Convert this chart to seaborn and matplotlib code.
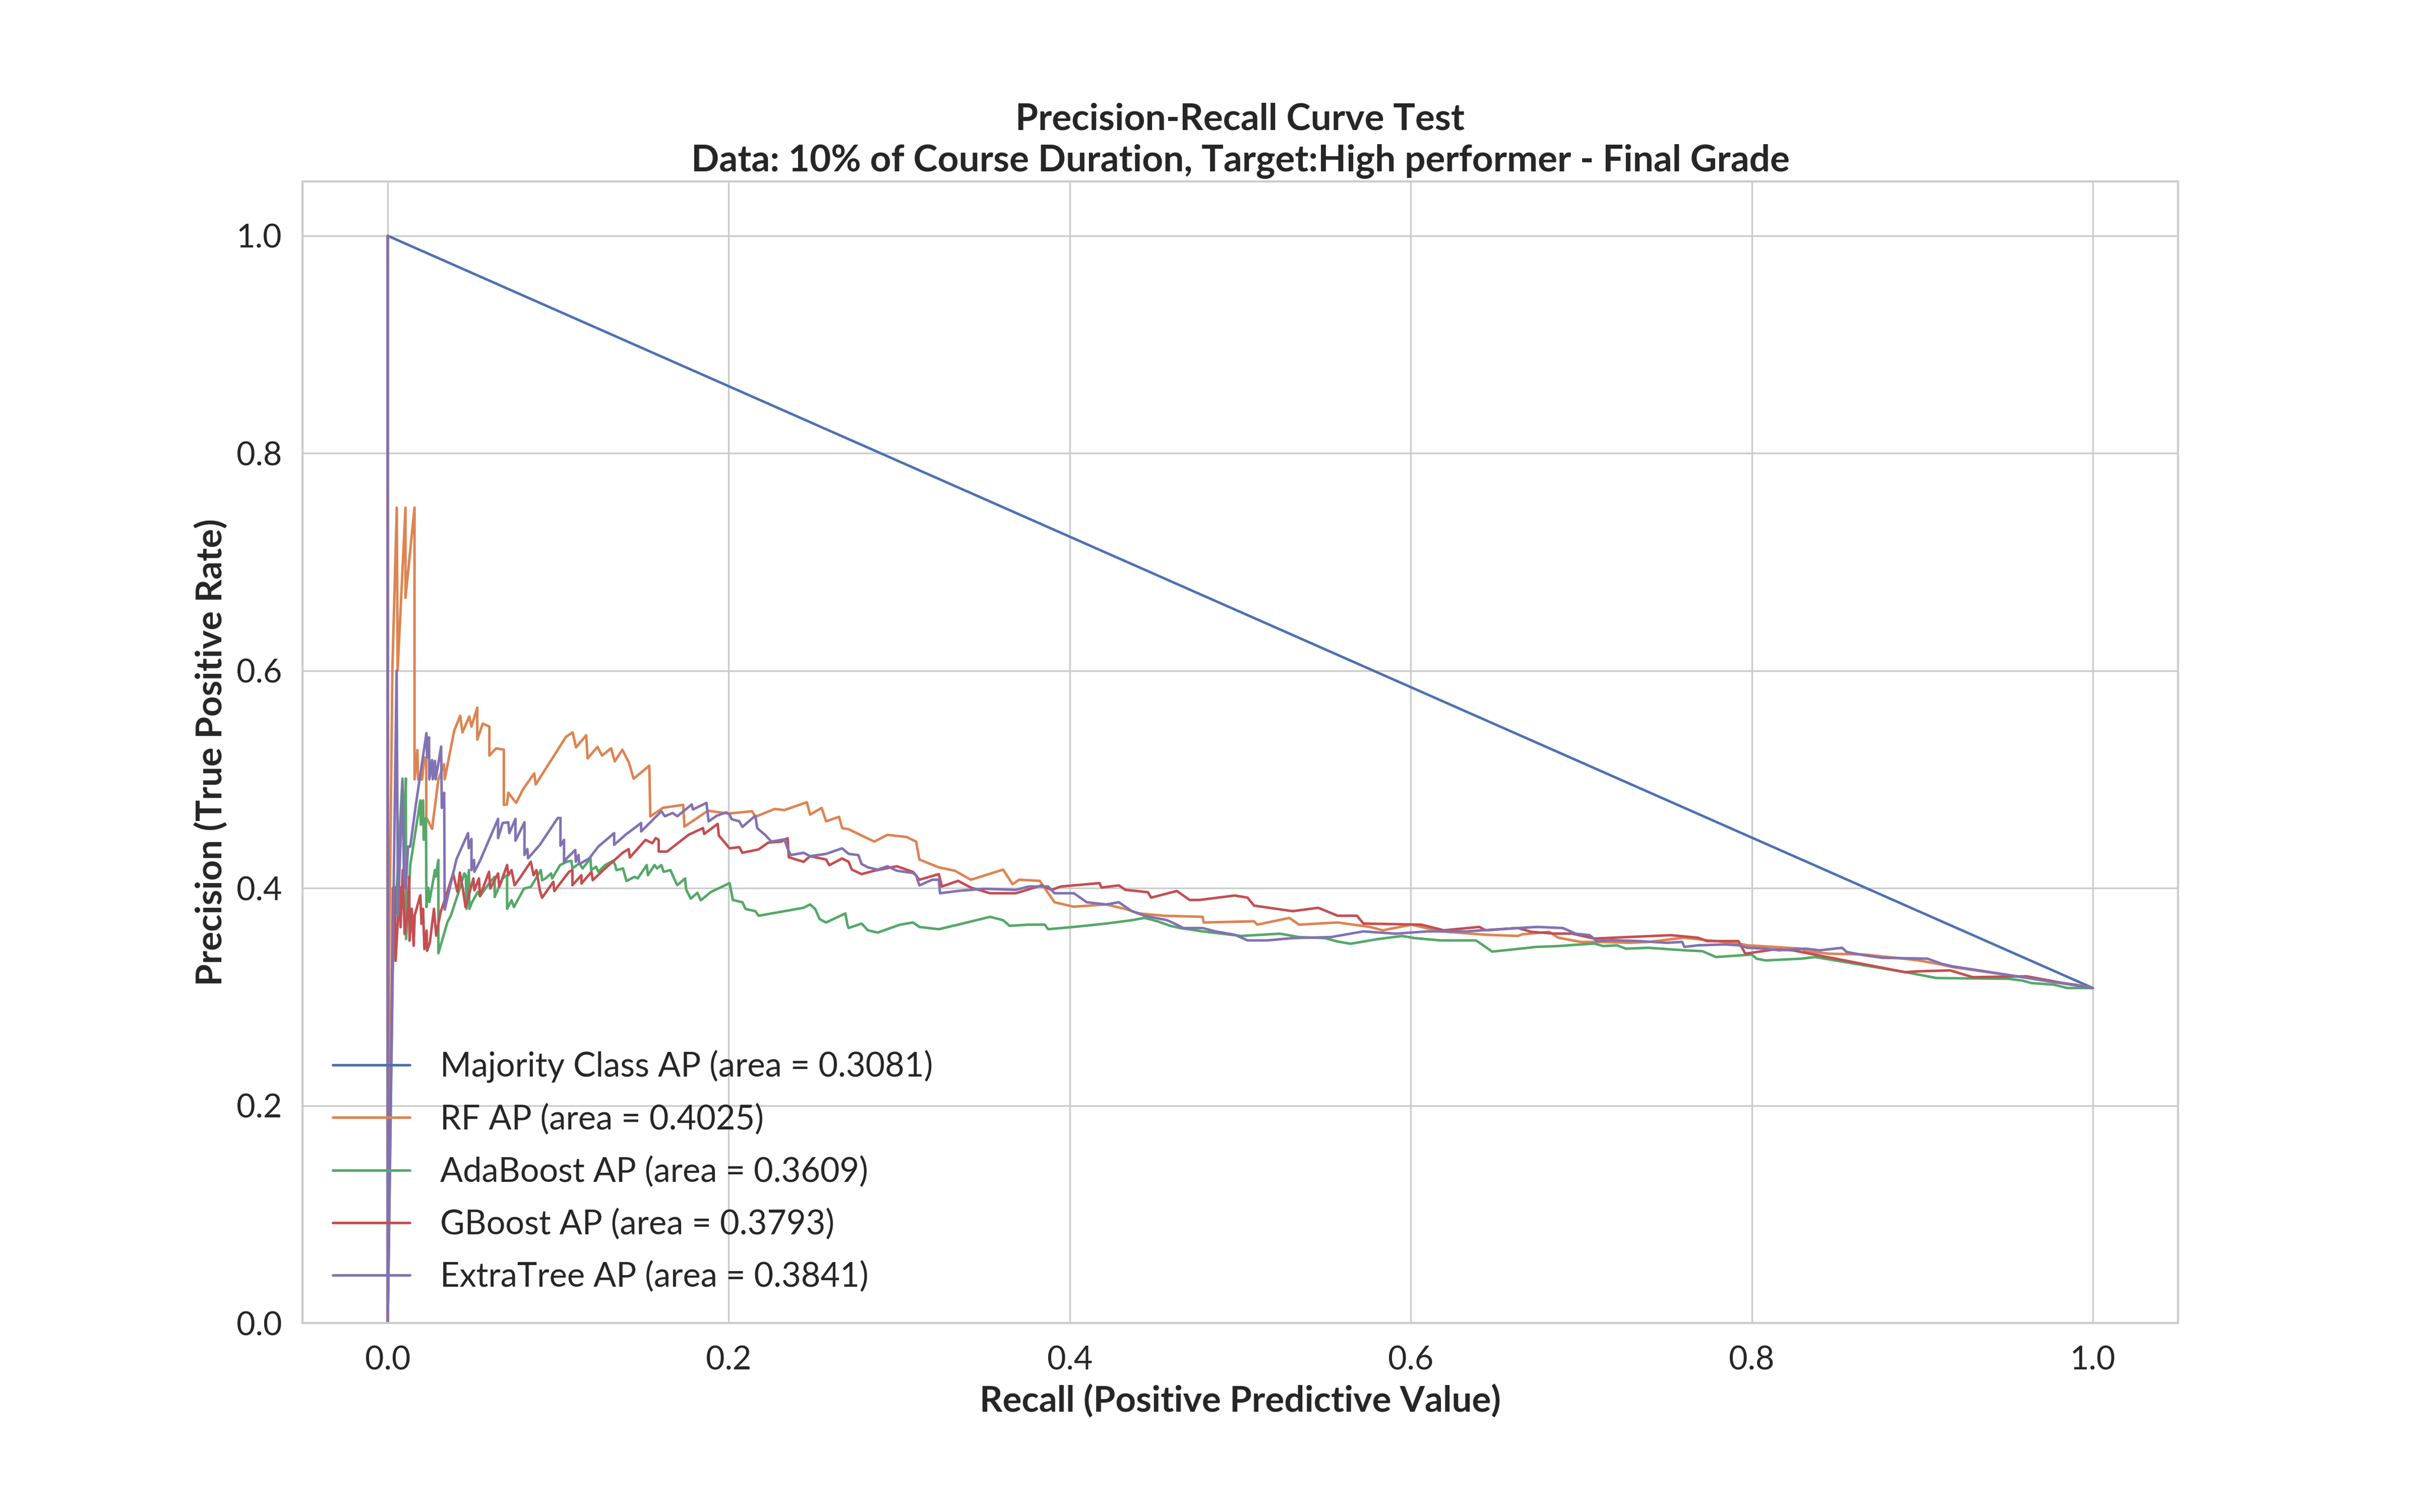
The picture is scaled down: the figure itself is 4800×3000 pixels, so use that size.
import matplotlib
matplotlib.use("Agg")
import matplotlib.pyplot as plt
import seaborn as sns
import pandas as pd

# ---------------- data ----------------
labels = [
    "Majority Class AP (area = 0.3081)",
    "RF AP (area = 0.4025)",
    "AdaBoost AP (area = 0.3609)",
    "GBoost AP (area = 0.3793)",
    "ExtraTree AP (area = 0.3841)",
]

majority_points = [(0.0, 1.0), (1.0, 0.3081)]

rf_points = [
    (0.0, 1.0), (0.0, 0.0), (0.0008, 0.33), (0.0027, 0.60), (0.0053, 0.75), (0.0058, 0.60),
    (0.0104, 0.75), (0.0104, 0.667), (0.0157, 0.75), (0.0157, 0.50), (0.0174, 0.527),
    (0.0178, 0.50), (0.0202, 0.50), (0.0215, 0.52), (0.0226, 0.52), (0.0226, 0.465),
    (0.0260, 0.4545), (0.0297, 0.50), (0.0330, 0.514), (0.0334, 0.50), (0.0390, 0.545),
    (0.0425, 0.5585), (0.0438, 0.5432), (0.0478, 0.5579), (0.0491, 0.5486), (0.0525, 0.566),
    (0.0525, 0.5366), (0.0557, 0.5513), (0.0596, 0.5486), (0.0596, 0.5219), (0.0636, 0.5286),
    (0.0681, 0.5273), (0.0681, 0.4766), (0.0699, 0.4769), (0.0707, 0.4877), (0.0753, 0.4784),
    (0.0793, 0.4908), (0.0859, 0.5055), (0.0868, 0.4954), (0.1046, 0.5393), (0.1085, 0.5432),
    (0.1104, 0.5294), (0.1164, 0.5406), (0.1172, 0.5193), (0.1230, 0.5299), (0.1257, 0.5219),
    (0.1310, 0.5286), (0.1331, 0.5166), (0.1376, 0.5273), (0.1415, 0.5153), (0.1442, 0.5006),
    (0.1534, 0.5126), (0.1540, 0.4659), (0.1614, 0.4739), (0.1733, 0.4766), (0.1740, 0.4566),
    (0.1878, 0.4712), (0.1997, 0.4686), (0.2137, 0.4707), (0.2156, 0.4656), (0.2269, 0.4728),
    (0.2326, 0.4718), (0.2458, 0.4790), (0.2477, 0.4676), (0.2545, 0.4738), (0.2571, 0.4614),
    (0.2647, 0.4656), (0.2665, 0.4552), (0.2703, 0.4542), (0.2771, 0.4490), (0.2854, 0.4428),
    (0.2930, 0.4490), (0.3043, 0.4470), (0.3099, 0.4428), (0.3118, 0.4263), (0.3232, 0.4191),
    (0.3326, 0.4160), (0.3420, 0.4077), (0.3609, 0.4170), (0.3665, 0.4036), (0.3703, 0.4077),
    (0.3824, 0.4067), (0.3911, 0.3870), (0.4024, 0.3829), (0.4213, 0.3850), (0.4326, 0.3808),
    (0.4409, 0.3767), (0.4552, 0.3746), (0.4779, 0.3736), (0.4786, 0.3684), (0.5081, 0.3695),
    (0.5100, 0.3664), (0.5288, 0.3726), (0.5345, 0.3664), (0.5571, 0.3684), (0.5760, 0.3643),
    (0.5836, 0.3612), (0.6005, 0.3664), (0.6175, 0.3602), (0.6440, 0.3571), (0.6628, 0.3560),
    (0.6654, 0.3575), (0.6812, 0.3598), (0.6865, 0.3544), (0.6997, 0.3505), (0.7103, 0.3505),
    (0.7288, 0.3497), (0.7394, 0.3505), (0.7605, 0.3544), (0.7737, 0.3521), (0.7922, 0.3490),
    (0.7975, 0.3474), (0.8133, 0.3459), (0.8292, 0.3443), (0.8318, 0.3420), (0.8450, 0.3397),
    (0.8662, 0.3389), (0.8847, 0.3359), (0.8979, 0.3335), (0.9111, 0.3297), (0.9177, 0.3274),
    (0.9586, 0.3181), (0.9771, 0.3135), (0.9903, 0.3112), (1.0, 0.3081),
]

ada_points = [
    (0.0, 1.0), (0.0, 0.0), (0.0030, 0.33), (0.0086, 0.5008), (0.0096, 0.4367), (0.0106, 0.5008),
    (0.0108, 0.3532), (0.0132, 0.4212), (0.0191, 0.4807), (0.0194, 0.4583), (0.0207, 0.4807),
    (0.0211, 0.4444), (0.0224, 0.4645), (0.0227, 0.3826), (0.0238, 0.4003), (0.0244, 0.3872),
    (0.0277, 0.4166), (0.0281, 0.4104), (0.0297, 0.4259), (0.0297, 0.3401), (0.0350, 0.3687),
    (0.0370, 0.3748), (0.0403, 0.3903), (0.0416, 0.3965), (0.0449, 0.4135), (0.0458, 0.4119),
    (0.0462, 0.3810), (0.0476, 0.4166), (0.0479, 0.3810), (0.0495, 0.3872), (0.0528, 0.3965),
    (0.0541, 0.3926), (0.0601, 0.4058), (0.0627, 0.4104), (0.0627, 0.3918), (0.0674, 0.4089),
    (0.0700, 0.4119), (0.0700, 0.3810), (0.0726, 0.3888), (0.0740, 0.3826), (0.0799, 0.3996),
    (0.0839, 0.4011), (0.0898, 0.4166), (0.0905, 0.4073), (0.0925, 0.4089), (0.0958, 0.4135),
    (0.0964, 0.4089), (0.1011, 0.4212), (0.1050, 0.4243), (0.1077, 0.4251), (0.1083, 0.4181),
    (0.1123, 0.4228), (0.1143, 0.4181), (0.1189, 0.4274), (0.1193, 0.4166), (0.1222, 0.4197),
    (0.1235, 0.4150), (0.1275, 0.4212), (0.1321, 0.4251), (0.1334, 0.4212), (0.1341, 0.4166),
    (0.1380, 0.4181), (0.1400, 0.4065), (0.1447, 0.4104), (0.1466, 0.4089), (0.1519, 0.4212),
    (0.1526, 0.4119), (0.1565, 0.4212), (0.1579, 0.4181), (0.1605, 0.4212), (0.1618, 0.4150),
    (0.1658, 0.4166), (0.1684, 0.4073), (0.1698, 0.4027), (0.1744, 0.4089), (0.1750, 0.3988),
    (0.1777, 0.3903), (0.1816, 0.3957), (0.1836, 0.3888), (0.1896, 0.3965), (0.2005, 0.4046),
    (0.2024, 0.3891), (0.2080, 0.3870), (0.2099, 0.3808), (0.2156, 0.3788), (0.2175, 0.3746),
    (0.2326, 0.3788), (0.2439, 0.3819), (0.2477, 0.3850), (0.2507, 0.3808), (0.2533, 0.3715),
    (0.2571, 0.3684), (0.2684, 0.3767), (0.2696, 0.3664), (0.2703, 0.3633), (0.2779, 0.3674),
    (0.2816, 0.3612), (0.2873, 0.3591), (0.3005, 0.3664), (0.3081, 0.3684), (0.3118, 0.3643),
    (0.3232, 0.3622), (0.3345, 0.3664), (0.3533, 0.3736), (0.3609, 0.3705), (0.3647, 0.3653),
    (0.3760, 0.3664), (0.3854, 0.3664), (0.3873, 0.3622), (0.4024, 0.3643), (0.4213, 0.3674),
    (0.4364, 0.3705), (0.4439, 0.3726), (0.4515, 0.3695), (0.4590, 0.3653), (0.4647, 0.3633),
    (0.4779, 0.3602), (0.4892, 0.3581), (0.5005, 0.3560), (0.5232, 0.3581), (0.5345, 0.3550),
    (0.5496, 0.3540), (0.5571, 0.3509), (0.5647, 0.3488), (0.5798, 0.3529), (0.5949, 0.3560),
    (0.6024, 0.3540), (0.6175, 0.3519), (0.6383, 0.3519), (0.6440, 0.3457), (0.6477, 0.3416),
    (0.6666, 0.3447), (0.6733, 0.3459), (0.6865, 0.3467), (0.6997, 0.3482), (0.7077, 0.3490),
    (0.7129, 0.3467), (0.7209, 0.3474), (0.7262, 0.3443), (0.7394, 0.3451), (0.7605, 0.3428),
    (0.7711, 0.3420), (0.7790, 0.3366), (0.8001, 0.3389), (0.8028, 0.3351), (0.8081, 0.3335),
    (0.8292, 0.3351), (0.8371, 0.3366), (0.8926, 0.3220), (0.9084, 0.3173), (0.9507, 0.3166),
    (0.9586, 0.3150), (0.9639, 0.3127), (0.9771, 0.3112), (0.9851, 0.3081), (1.0, 0.3081),
]

gboost_points = [
    (0.0, 1.0), (0.0, 0.0), (0.0020, 0.25), (0.0030, 0.40), (0.0040, 0.4011), (0.0046, 0.3331),
    (0.0057, 0.3640), (0.0070, 0.4011), (0.0075, 0.3640), (0.0088, 0.4166), (0.0099, 0.3578),
    (0.0119, 0.3810), (0.0126, 0.4104), (0.0128, 0.3517), (0.0141, 0.3810), (0.0152, 0.3470),
    (0.0158, 0.3748), (0.0191, 0.3934), (0.0198, 0.3671), (0.0207, 0.3810), (0.0215, 0.3439),
    (0.0228, 0.3609), (0.0231, 0.3424), (0.0247, 0.3501), (0.0271, 0.3810), (0.0284, 0.3563),
    (0.0310, 0.3779), (0.0350, 0.3965), (0.0383, 0.4135), (0.0409, 0.3965), (0.0423, 0.4143),
    (0.0442, 0.3980), (0.0456, 0.3826), (0.0502, 0.4089), (0.0508, 0.3980), (0.0535, 0.4089),
    (0.0541, 0.3926), (0.0594, 0.4150), (0.0601, 0.3996), (0.0647, 0.4135), (0.0654, 0.4011),
    (0.0700, 0.4212), (0.0707, 0.4119), (0.0726, 0.4166), (0.0744, 0.4027), (0.0773, 0.4089),
    (0.0839, 0.4243), (0.0855, 0.4119), (0.0872, 0.4166), (0.0892, 0.3980), (0.0905, 0.3911),
    (0.0971, 0.4058), (0.0977, 0.3973), (0.1063, 0.4150), (0.1083, 0.4166), (0.1083, 0.4027),
    (0.1136, 0.4119), (0.1136, 0.4042), (0.1195, 0.4150), (0.1202, 0.4073), (0.1275, 0.4181),
    (0.1380, 0.4328), (0.1413, 0.4359), (0.1420, 0.4282), (0.1512, 0.4444), (0.1552, 0.4413),
    (0.1572, 0.4460), (0.1589, 0.4444), (0.1589, 0.4336), (0.1638, 0.4336), (0.1764, 0.4490),
    (0.1849, 0.4552), (0.1856, 0.4498), (0.1935, 0.4591), (0.1942, 0.4483), (0.1959, 0.4452),
    (0.2005, 0.4366), (0.2062, 0.4377), (0.2080, 0.4325), (0.2175, 0.4356), (0.2231, 0.4418),
    (0.2307, 0.4428), (0.2345, 0.4459), (0.2352, 0.4284), (0.2439, 0.4242), (0.2477, 0.4294),
    (0.2571, 0.4263), (0.2590, 0.4211), (0.2665, 0.4273), (0.2703, 0.4242), (0.2722, 0.4170),
    (0.2779, 0.4129), (0.2854, 0.4160), (0.2986, 0.4201), (0.3081, 0.4149), (0.3118, 0.4077),
    (0.3232, 0.4129), (0.3250, 0.4015), (0.3345, 0.4067), (0.3420, 0.4005), (0.3533, 0.3953),
    (0.3684, 0.3953), (0.3835, 0.4025), (0.3892, 0.3984), (0.3949, 0.4015), (0.4175, 0.4046),
    (0.4186, 0.4005), (0.4288, 0.4025), (0.4326, 0.3984), (0.4458, 0.3963), (0.4477, 0.3912),
    (0.4628, 0.3974), (0.4703, 0.3891), (0.4760, 0.3891), (0.4968, 0.3932), (0.5043, 0.3912),
    (0.5081, 0.3839), (0.5307, 0.3788), (0.5458, 0.3819), (0.5571, 0.3746), (0.5685, 0.3746),
    (0.5722, 0.3674), (0.6062, 0.3664), (0.6194, 0.3612), (0.6402, 0.3643), (0.6440, 0.3612),
    (0.6628, 0.3633), (0.6707, 0.3598), (0.6839, 0.3582), (0.6944, 0.3582), (0.7077, 0.3536),
    (0.7288, 0.3551), (0.7526, 0.3567), (0.7684, 0.3544), (0.7737, 0.3513), (0.7922, 0.3513),
    (0.7962, 0.3397), (0.8133, 0.3436), (0.8239, 0.3428), (0.8899, 0.3227), (0.8979, 0.3235),
    (0.9164, 0.3243), (0.9296, 0.3181), (0.9613, 0.3189), (0.9824, 0.3127), (1.0, 0.3081),
]

extratree_points = [
    (0.0, 1.0), (0.0, 0.0), (0.0052, 0.60), (0.0060, 0.375), (0.0087, 0.498), (0.0095, 0.41),
    (0.0106, 0.3996), (0.0119, 0.4382), (0.0132, 0.4382), (0.0165, 0.4769), (0.0227, 0.5426),
    (0.0231, 0.5202), (0.0242, 0.5387), (0.0244, 0.5001), (0.0260, 0.5178), (0.0264, 0.5001),
    (0.0277, 0.5171), (0.0281, 0.5001), (0.0313, 0.5302), (0.0317, 0.4738), (0.0331, 0.4877),
    (0.0334, 0.3802), (0.0403, 0.4266), (0.0471, 0.4506), (0.0475, 0.4367), (0.0491, 0.4452),
    (0.0491, 0.4166), (0.0506, 0.4259), (0.0508, 0.4150), (0.0541, 0.4251), (0.0647, 0.4637),
    (0.0647, 0.4460), (0.0674, 0.4599), (0.0707, 0.4606), (0.0713, 0.4506), (0.0749, 0.4637),
    (0.0749, 0.4436), (0.0802, 0.4606), (0.0802, 0.4305), (0.0819, 0.4359), (0.0823, 0.4274),
    (0.0892, 0.4398), (0.0997, 0.4645), (0.1013, 0.4645), (0.1013, 0.4390), (0.1034, 0.4444),
    (0.1034, 0.4243), (0.1050, 0.4274), (0.1100, 0.4351), (0.1103, 0.4243), (0.1119, 0.4305),
    (0.1123, 0.4220), (0.1182, 0.4274), (0.1235, 0.4382), (0.1328, 0.4506), (0.1328, 0.4398),
    (0.1394, 0.4490), (0.1486, 0.4599), (0.1486, 0.4521), (0.1605, 0.4707), (0.1625, 0.4661),
    (0.1671, 0.4691), (0.1698, 0.4661), (0.1783, 0.4769), (0.1790, 0.4723), (0.1869, 0.4784),
    (0.1882, 0.4614), (0.1930, 0.4666), (0.1986, 0.4697), (0.2005, 0.4676), (0.2016, 0.4635),
    (0.2062, 0.4614), (0.2080, 0.4563), (0.2156, 0.4666), (0.2167, 0.4552), (0.2213, 0.4490),
    (0.2250, 0.4428), (0.2326, 0.4449), (0.2345, 0.4366), (0.2364, 0.4304), (0.2439, 0.4325),
    (0.2477, 0.4294), (0.2571, 0.4315), (0.2665, 0.4366), (0.2703, 0.4315), (0.2760, 0.4304),
    (0.2779, 0.4222), (0.2816, 0.4191), (0.2873, 0.4170), (0.2930, 0.4201), (0.2986, 0.4160),
    (0.3081, 0.4139), (0.3099, 0.4118), (0.3118, 0.4025), (0.3194, 0.4077), (0.3232, 0.4077),
    (0.3239, 0.3953), (0.3345, 0.3974), (0.3496, 0.3994), (0.3684, 0.3984), (0.3760, 0.4015),
    (0.3873, 0.4015), (0.3911, 0.3953), (0.4024, 0.3953), (0.4100, 0.3870), (0.4213, 0.3850),
    (0.4288, 0.3870), (0.4326, 0.3829), (0.4364, 0.3788), (0.4439, 0.3746), (0.4571, 0.3705),
    (0.4628, 0.3664), (0.4666, 0.3633), (0.4779, 0.3633), (0.4854, 0.3602), (0.4968, 0.3571),
    (0.5043, 0.3519), (0.5156, 0.3519), (0.5307, 0.3540), (0.5534, 0.3550), (0.5722, 0.3602),
    (0.5911, 0.3581), (0.6100, 0.3602), (0.6326, 0.3602), (0.6515, 0.3622), (0.6741, 0.3643),
    (0.6892, 0.3633), (0.6968, 0.3581), (0.7050, 0.3567), (0.7090, 0.3513), (0.7182, 0.3521),
    (0.7341, 0.3513), (0.7499, 0.3497), (0.7592, 0.3505), (0.7605, 0.3459), (0.7684, 0.3474),
    (0.7843, 0.3482), (0.7922, 0.3474), (0.7975, 0.3451), (0.8081, 0.3443), (0.8160, 0.3428),
    (0.8318, 0.3443), (0.8398, 0.3428), (0.8530, 0.3451), (0.8556, 0.3413), (0.8662, 0.3382),
    (0.8768, 0.3359), (0.9032, 0.3351), (0.9111, 0.3305), (0.9177, 0.3281), (1.0, 0.3081),
]

series = [majority_points, rf_points, ada_points, gboost_points, extratree_points]

title_text = "Precision-Recall Curve Test\nData: 10% of Course Duration, Target:High performer - Final Grade"
xlabel_text = "Recall (Positive Predictive Value)"
ylabel_text = "Precision (True Positive Rate)"
tick_values = [0.0, 0.2, 0.4, 0.6, 0.8, 1.0]

# ---------------- style ----------------
sns.set_theme(style="whitegrid", context="paper")
plt.rcParams["font.family"] = ["Lato", "DejaVu Sans"]
plt.rcParams["axes.edgecolor"] = "#cccccc"
plt.rcParams["grid.color"] = "#cccccc"
plt.rcParams["grid.linewidth"] = 0.8
plt.rcParams["axes.linewidth"] = 1.0

colors = sns.color_palette("deep", 5)

fig = plt.figure(figsize=(16, 10), dpi=300)
ax = fig.add_axes([0.125, 0.125, 0.775, 0.755])

for pts, lab, col in zip(series, labels, colors):
    df = pd.DataFrame(pts, columns=["recall", "precision"])
    sns.lineplot(data=df, x="recall", y="precision", sort=False, estimator=None,
                 ax=ax, color=col, label=lab, linewidth=1.2)

ax.set_xlim(-0.05, 1.05)
ax.set_ylim(0.0, 1.05)
ax.set_xticks(tick_values)
ax.set_yticks(tick_values)
ax.tick_params(axis="both", labelsize=15.5, colors="#262626")
ax.tick_params(axis="x", pad=6)
ax.tick_params(axis="y", pad=5)

ax.set_title(title_text, fontsize=17.5, fontweight="bold", color="#262626", pad=5,
             linespacing=1.27)
ax.set_xlabel(xlabel_text, fontsize=17, fontweight="bold", color="#262626", labelpad=4)
ax.set_ylabel(ylabel_text, fontsize=17, fontweight="bold", color="#262626", labelpad=4)

leg = ax.legend(loc="lower left", frameon=False, fontsize=16, handlelength=2.3,
                handletextpad=0.9, labelspacing=0.62)
for t in leg.get_texts():
    t.set_color("#262626")

fig.savefig("out.png", dpi=300)
